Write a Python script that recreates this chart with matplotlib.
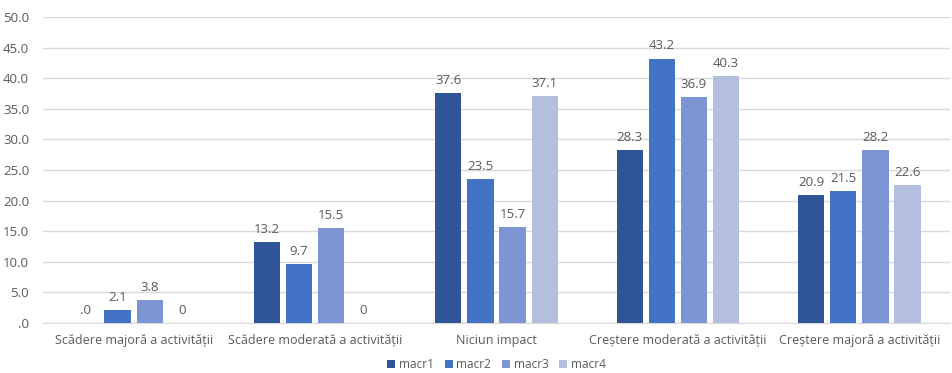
import matplotlib
matplotlib.use("Agg")
import matplotlib.pyplot as plt
import numpy as np
from matplotlib.ticker import FuncFormatter

categories = ["Scădere majoră a activității", "Scădere moderată a activității",
              "Niciun impact", "Creștere moderată a activității", "Creștere majoră a activității"]
series_names = ["macr1", "macr2", "macr3", "macr4"]
macr1 = [0.0, 13.2, 37.6, 28.3, 20.9]
macr2 = [2.1, 9.7, 23.5, 43.2, 21.5]
macr3 = [3.8, 15.5, 15.7, 36.9, 28.2]
macr4 = [0, 0, 37.1, 40.3, 22.6]
colors = ["#2F5597", "#4472C4", "#7D95D3", "#B4BFE0"]

plt.rcParams["font.family"] = ["Open Sans", "DejaVu Sans"]
txt = "#595959"

fig = plt.figure(figsize=(9.52, 3.73), dpi=100)
ax = fig.add_axes([43 / 952, 1 - 323 / 373, 907 / 952, 306 / 373])

def dec_fmt(v):
    s = f"{v:.1f}"
    return s[1:] if s.startswith("0.") else s

def gen_fmt(v):
    return "0" if v == 0 else f"{v:.1f}"

x = np.arange(len(categories))
width = 0.145
step = 0.177
all_series = [macr1, macr2, macr3, macr4]
fmts = [dec_fmt, dec_fmt, dec_fmt, gen_fmt]
for i, (vals, c, name, f) in enumerate(zip(all_series, colors, series_names, fmts)):
    pos = x + (i - 1.5) * step
    ax.bar(pos, vals, width, color=c, label=name, zorder=3)
    for p, v in zip(pos, vals):
        ax.text(p, v + 1.0, f(v), ha="center", va="bottom", fontsize=9.5, color=txt)

ax.set_xlim(-0.5, len(categories) - 0.5)
ax.set_ylim(0, 50)
ax.set_yticks(np.arange(0, 50.1, 5))
ax.yaxis.set_major_formatter(FuncFormatter(lambda v, _: dec_fmt(v)))
ax.set_xticks(x)
ax.set_xticklabels(categories)
ax.grid(axis="y", color="#D9D9D9", linewidth=1, zorder=0)
for s in ["top", "right", "left"]:
    ax.spines[s].set_visible(False)
ax.spines["bottom"].set_color("#D9D9D9")
ax.tick_params(axis="both", length=0, colors=txt, labelsize=9.5)
ax.tick_params(axis="x", pad=8, labelsize=9)
ax.tick_params(axis="y", pad=10)

ax.legend(loc="center", bbox_to_anchor=(0.5, -0.135), ncol=4, frameon=False,
          fontsize=8.5, labelcolor=txt, handlelength=0.7, handleheight=0.7,
          handletextpad=0.3, columnspacing=0.9)

fig.savefig("out.png", dpi=100)
